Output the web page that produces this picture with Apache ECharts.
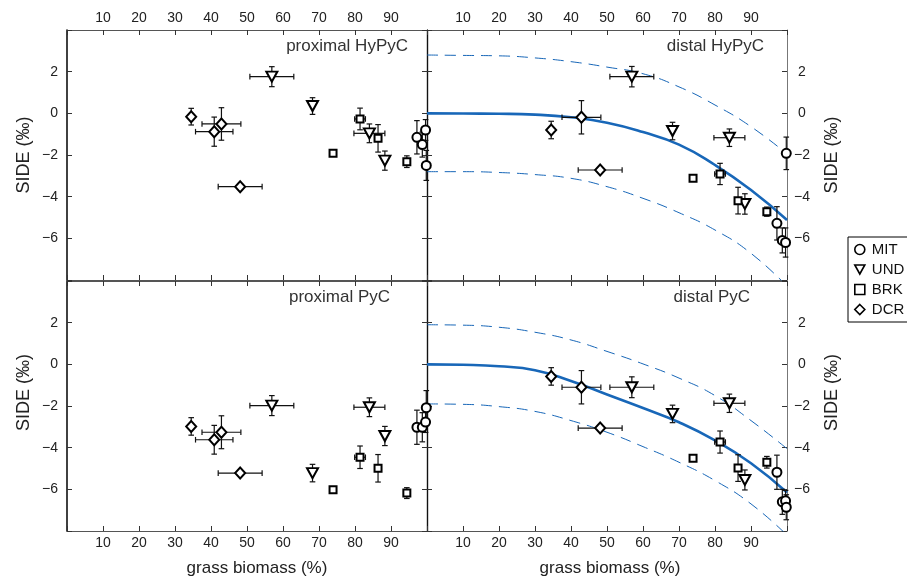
<!DOCTYPE html>
<html><head><meta charset="utf-8">
<script src="https://cdn.jsdelivr.net/npm/echarts@6/dist/echarts.min.js"></script>
<style>html,body{margin:0;padding:0;background:#fff}#c{width:907px;height:581px}</style>
</head><body><div id="c"></div>
<script>
// ---- data ----
const siteNames = ['MIT', 'UND', 'BRK', 'DCR'];
const sampleSite = ['DCR','DCR','DCR','DCR','UND','UND','UND','UND','BRK','BRK','BRK','BRK','MIT','MIT','MIT','MIT'];
const grassBiomass    = [34.5, 40.9, 42.9, 48.1, 56.9, 68.2, 84.0, 88.3, 73.9, 81.4, 86.4, 94.4, 97.2, 98.7, 99.6, 99.8];
const grassBiomassErr = [0, 5.2, 5.4, 6.1, 6.1, 0, 4.3, 0, 0, 1.5, 0, 0, 0, 0, 0, 0];

const proxHyPyC    = [-0.16, -0.88, -0.51, -3.52, 1.76, 0.35, -0.96, -2.27, -1.92, -0.27, -1.2, -2.32, -1.15, -1.5, -0.8, -2.5];
const proxHyPyCErr = [0.4, 0.7, 0.78, 0, 0.48, 0.4, 0.45, 0.46, 0.12, 0.52, 0.66, 0.28, 0.8, 0.6, 0.5, 0.72];
const distHyPyC    = [-0.8, null, -0.19, -2.72, 1.76, -0.85, -1.17, -4.35, -3.12, -2.91, -4.19, -4.72, -5.28, -6.1, -6.2, -1.92];
const distHyPyCErr = [0.42, null, 0.8, 0, 0.49, 0.42, 0.42, 0.49, 0.1, 0.51, 0.64, 0.22, 0.8, 0.6, 0.7, 0.78];
const proxPyC      = [-2.98, -3.62, -3.26, -5.22, -1.98, -5.22, -2.06, -3.44, -6.02, -4.46, -4.99, -6.18, -3.02, -3.02, -2.77, -2.08];
const proxPyCErr   = [0.42, 0.69, 0.79, 0, 0.48, 0.42, 0.45, 0.46, 0.1, 0.54, 0.66, 0.26, 0.82, 0.7, 0.5, 0.82];
const distPyC      = [-0.58, null, -1.1, -3.06, -1.1, -2.38, -1.87, -5.55, -4.51, -3.73, -4.98, -4.7, -5.18, -6.6, -6.55, -6.86];
const distPyCErr   = [0.42, null, 0.8, 0, 0.5, 0.42, 0.44, 0.48, 0.1, 0.53, 0.64, 0.28, 0.82, 0.6, 0.5, 0.6];

const fitX          = [0, 10, 20, 30, 40, 50, 60, 70, 80, 90, 100];
const distHyFit     = [0, -0.01, -0.02, -0.06, -0.19, -0.45, -0.9, -1.5, -2.48, -3.68, -5.12];
const distHyUpper   = [2.8, 2.78, 2.76, 2.66, 2.48, 2.22, 1.9, 1.27, 0.4, -0.64, -1.95];
const distHyLower   = [-2.8, -2.8, -2.84, -2.94, -3.12, -3.52, -4.08, -4.77, -5.6, -6.72, -8.3];
const distPyFit     = [0, -0.02, -0.09, -0.28, -0.8, -1.45, -2.1, -2.78, -3.65, -4.75, -6.15];
const distPyUpper   = [1.9, 1.88, 1.78, 1.54, 1.17, 0.62, 0.02, -0.66, -1.5, -2.7, -4.05];
const distPyLower   = [-1.9, -1.92, -2.03, -2.26, -2.7, -3.26, -3.95, -4.7, -5.58, -6.7, -8.2];

const xTicks = [10, 20, 30, 40, 50, 60, 70, 80, 90];
const yTicks = [2, 0, -2, -4, -6];

const panelTitles = ['proximal HyPyC', 'distal HyPyC', 'proximal PyC', 'distal PyC'];
// ---- end data ----

const FONT = 'Liberation Sans, Arial, sans-serif';
const BLUE = '#1867b8';
const symbols = {
  MIT: {symbol: 'circle', symbolSize: 9},
  UND: {symbol: 'path://M0,0 L10,0 L5,9 Z', symbolSize: [11, 10]},
  BRK: {symbol: 'rect', symbolSize: 7},
  DCR: {symbol: 'diamond', symbolSize: [10, 11]}
};

const panels = [
  {y: proxHyPyC, e: proxHyPyCErr},
  {y: distHyPyC, e: distHyPyCErr, fit: distHyFit, up: distHyUpper, lo: distHyLower},
  {y: proxPyC, e: proxPyCErr},
  {y: distPyC, e: distPyCErr, fit: distPyFit, up: distPyUpper, lo: distPyLower}
];

const grids = [
  {left: 67, top: 30, width: 360, height: 250},
  {left: 427, top: 30, width: 360, height: 250},
  {left: 67, top: 281, width: 360, height: 250},
  {left: 427, top: 281, width: 360, height: 250}
].map(g => Object.assign(g, {containLabel: false, outerBoundsMode: 'none'}));

const xFmt = v => xTicks.indexOf(v) >= 0 ? String(v) : '';
const yFmt = v => yTicks.indexOf(v) >= 0 ? String(v).replace('-', '\u2212') : '';

const xAxes = [], yAxes = [];
for (let g = 0; g < 4; g++) {
  const isTop = g < 2, isLeft = g % 2 === 0;
  const base = {
    type: 'value', gridIndex: g, min: 0, max: 100, interval: 10,
    splitLine: {show: false},
    axisTick: {inside: true, length: 5, lineStyle: {color: '#333', width: 1}},
    axisLine: {show: true, onZero: false, lineStyle: {color: '#555', width: 1}}
  };
  xAxes.push(Object.assign({}, base, {
    position: isTop ? 'top' : 'bottom',
    axisLabel: {show: true, formatter: xFmt, margin: 5, color: '#222', fontSize: 14, fontFamily: FONT},
    name: isTop ? '' : 'grass biomass (%)',
    nameLocation: 'middle', nameGap: 29,
    nameTextStyle: {fontSize: 17, color: '#222', fontFamily: FONT, padding: isLeft ? [0, 0, 0, 20] : [0, 0, 0, 6]}
  }));
  xAxes.push(Object.assign({}, base, {
    position: isTop ? 'bottom' : 'top',
    axisLabel: {show: false}
  }));
  const ybase = {
    type: 'value', gridIndex: g, min: -8, max: 4, interval: 2,
    splitLine: {show: false},
    axisTick: {inside: true, length: 5, lineStyle: {color: '#333', width: 1}},
  };
  yAxes.push(Object.assign({}, ybase, {
    position: isLeft ? 'left' : 'right',
    axisLine: {show: true, onZero: false, lineStyle: {color: isLeft ? '#111' : '#777', width: isLeft ? 1.6 : 1}},
    axisLabel: isLeft
      ? {show: true, formatter: yFmt, margin: 9, color: '#222', fontSize: 14, fontFamily: FONT}
      : {show: true, formatter: yFmt, margin: 15, align: 'center', color: '#222', fontSize: 14, fontFamily: FONT},
    name: 'SIDE (\u2030)', nameLocation: 'middle', nameRotate: 90, nameGap: isLeft ? 34 : 36,
    nameTextStyle: {fontSize: 18, color: '#222', fontFamily: FONT, padding: isTop ? [0, 0, 0, 0] : [0, 0, 0, 27]}
  }));
  yAxes.push(Object.assign({}, ybase, {
    position: isLeft ? 'right' : 'left',
    axisLine: {show: true, onZero: false, lineStyle: {color: '#111', width: 1.2}},
    axisLabel: {show: false}
  }));
}

function renderErr(params, api) {
  const x = api.value(0), y = api.value(1), xe = api.value(2), ye = api.value(3);
  const c = api.coord([x, y]);
  const st = {stroke: '#111', lineWidth: 1.2, fill: null};
  const cap = 2.8;
  const ch = [];
  if (ye > 0) {
    const t = api.coord([x, y + ye]), b = api.coord([x, y - ye]);
    ch.push({type: 'line', shape: {x1: c[0], y1: t[1], x2: c[0], y2: b[1]}, style: st});
    ch.push({type: 'line', shape: {x1: c[0] - cap, y1: t[1], x2: c[0] + cap, y2: t[1]}, style: st});
    ch.push({type: 'line', shape: {x1: c[0] - cap, y1: b[1], x2: c[0] + cap, y2: b[1]}, style: st});
  }
  if (xe > 0) {
    const l = api.coord([x - xe, y]), r = api.coord([x + xe, y]);
    ch.push({type: 'line', shape: {x1: l[0], y1: c[1], x2: r[0], y2: c[1]}, style: st});
    ch.push({type: 'line', shape: {x1: l[0], y1: c[1] - cap, x2: l[0], y2: c[1] + cap}, style: st});
    ch.push({type: 'line', shape: {x1: r[0], y1: c[1] - cap, x2: r[0], y2: c[1] + cap}, style: st});
  }
  return {type: 'group', children: ch};
}

const series = [];
panels.forEach((p, g) => {
  const xi = 2 * g, yi = 2 * g;
  if (p.fit) {
    const mk = (arr, dashed) => ({
      type: 'line', xAxisIndex: xi, yAxisIndex: yi, z: 1, silent: true,
      data: fitX.map((x, i) => [x, arr[i]]), showSymbol: false, symbol: 'none',
      smooth: 0.5, clip: true,
      lineStyle: dashed ? {color: BLUE, width: 1, type: [11, 7]} : {color: BLUE, width: 2.6}
    });
    series.push(mk(p.up, true), mk(p.lo, true), mk(p.fit, false));
  }
  const errData = [];
  grassBiomass.forEach((x, i) => {
    if (p.y[i] !== null) errData.push([x, p.y[i], grassBiomassErr[i], p.e[i]]);
  });
  series.push({
    type: 'custom', xAxisIndex: xi, yAxisIndex: yi, z: 2, silent: true,
    renderItem: renderErr, data: errData,
    encode: {x: 0, y: 1}, dimensions: ['x', 'y', 'xe', 'ye']
  });
  siteNames.forEach(site => {
    const data = [];
    grassBiomass.forEach((x, i) => {
      if (sampleSite[i] === site && p.y[i] !== null) data.push([x, p.y[i]]);
    });
    series.push(Object.assign({
      type: 'scatter', name: site, xAxisIndex: xi, yAxisIndex: yi, z: 3,
      data: data, clip: false,
      itemStyle: {color: '#fff', borderColor: '#000', borderWidth: 2, opacity: 1}
    }, symbols[site]));
  });
});

const titleRights = [499, 143, 517, 157];
const titleTops = [38, 38, 289, 289];
const titles = panelTitles.map((t, i) => ({
  text: t, right: titleRights[i], top: titleTops[i], padding: 0,
  textStyle: {fontSize: 17, fontWeight: 'normal', color: '#333', fontFamily: FONT}
}));

const option = {
  animation: false,
  backgroundColor: '#fff',
  title: titles,
  grid: grids,
  xAxis: xAxes,
  yAxis: yAxes,
  legend: {
    data: siteNames, orient: 'vertical', left: 848, top: 237,
    padding: [5, 6, 5, 6], itemGap: 5, itemWidth: 10, itemHeight: 10,
    borderColor: '#000', borderWidth: 1, backgroundColor: '#fff',
    textStyle: {fontSize: 15, color: '#111', fontFamily: FONT, padding: [0, 0, 0, 2]},
    itemStyle: {borderWidth: 1.6}
  },
  series: series
};

const chart = echarts.init(document.getElementById('c'), null, {renderer: 'canvas'});
chart.setOption(option);
</script>
</body></html>
